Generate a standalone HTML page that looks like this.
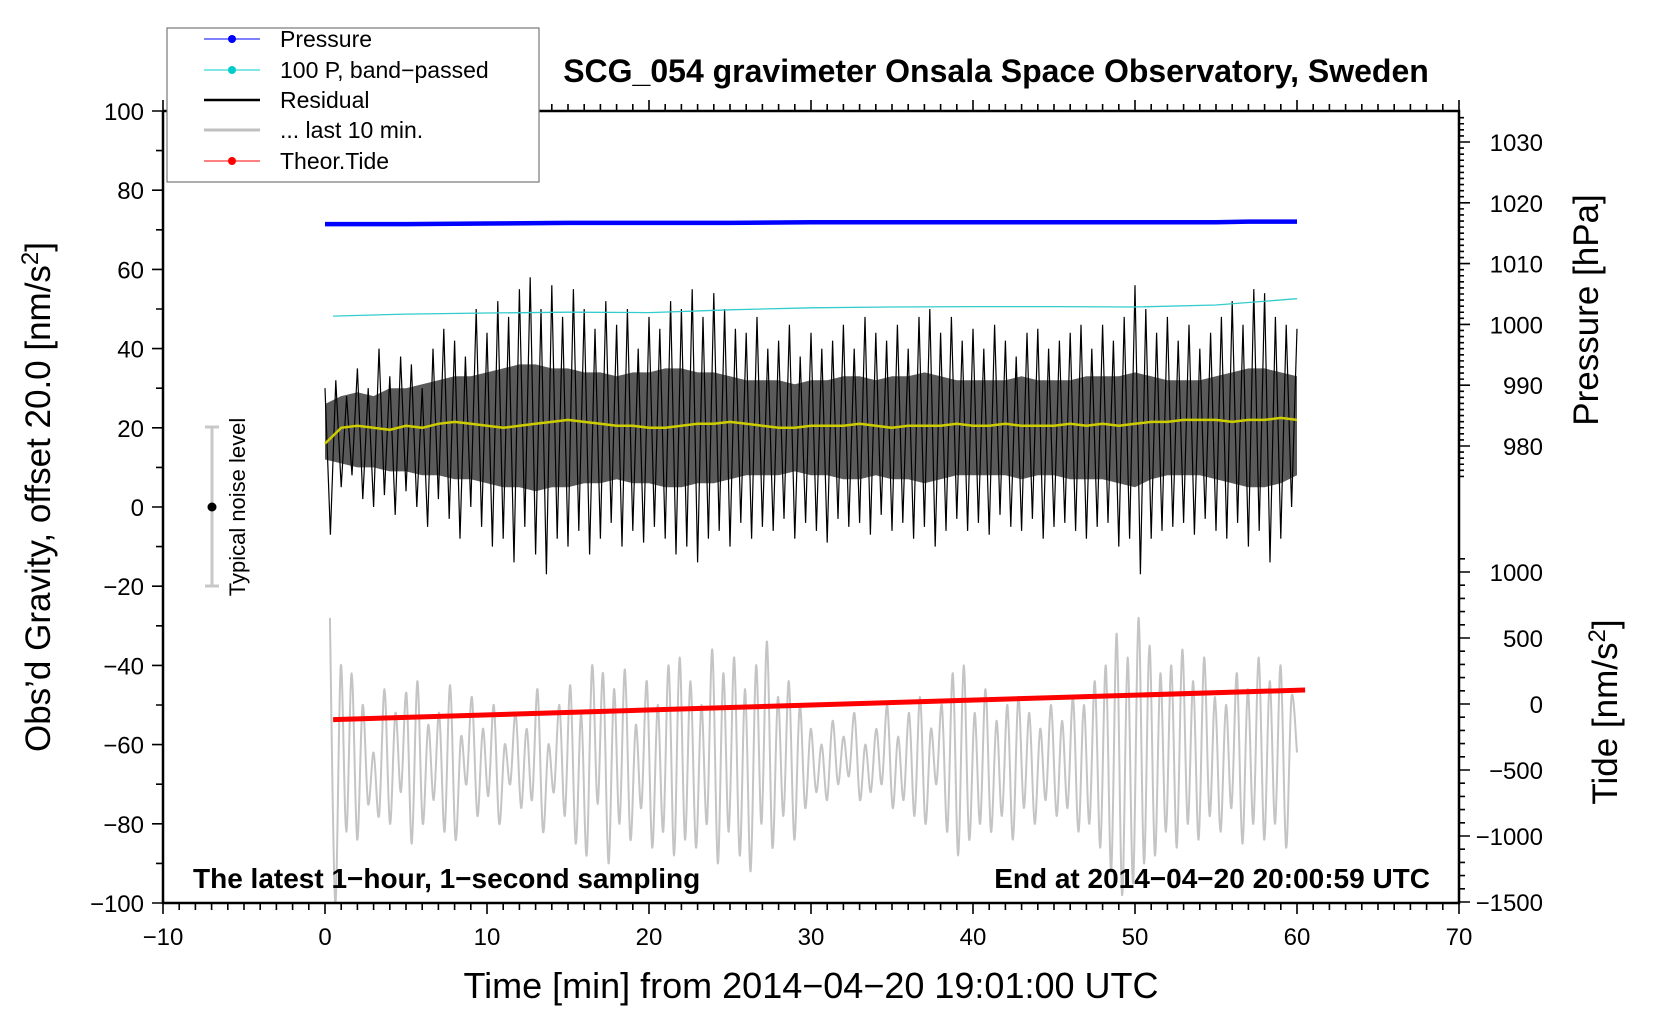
<!DOCTYPE html>
<html><head><meta charset="utf-8"><style>
html,body{margin:0;padding:0;background:#fff}
svg{display:block;font-family:"Liberation Sans",Arial,sans-serif}
</style></head><body>
<svg id="chart" width="1660" height="1020" viewBox="0 0 1660 1020" xmlns="http://www.w3.org/2000/svg">
<rect width="1660" height="1020" fill="#fff"/>
<g id="plot"></g>
<g id="axes"></g>
<text x="996" y="82" font-size="32" font-weight="bold" text-anchor="middle">SCG_054 gravimeter Onsala Space Observatory, Sweden</text>
<text x="811" y="998" font-size="36" text-anchor="middle">Time [min] from 2014−04−20 19:01:00 UTC</text>
<text transform="translate(50,497) rotate(-90)" font-size="35" text-anchor="middle">Obs’d Gravity, offset 20.0 [nm/s<tspan dy="-12" font-size="24">2</tspan><tspan dy="12">]</tspan></text>
<text transform="translate(1598,310) rotate(-90)" font-size="35" text-anchor="middle">Pressure [hPa]</text>
<text transform="translate(1617,712) rotate(-90)" font-size="35" text-anchor="middle">Tide [nm/s<tspan dy="-12" font-size="24">2</tspan><tspan dy="12">]</tspan></text>
<text x="193" y="888" font-size="28" font-weight="bold">The latest 1−hour, 1−second sampling</text>
<text x="1430" y="888" font-size="28" font-weight="bold" text-anchor="end">End at 2014−04−20 20:00:59 UTC</text>
<g>
<line x1="212" y1="427" x2="212" y2="586" stroke="#c8c8c8" stroke-width="3"/>
<line x1="205" y1="427" x2="219" y2="427" stroke="#c8c8c8" stroke-width="3"/>
<line x1="205" y1="586" x2="219" y2="586" stroke="#c8c8c8" stroke-width="3"/>
<circle cx="212" cy="507" r="4.5" fill="#000"/>
<text transform="translate(245,507) rotate(-90)" font-size="22" text-anchor="middle">Typical noise level</text>
</g>
<g id="legend">
<rect x="167" y="28" width="372" height="154" fill="#fff" stroke="#777" stroke-width="1.2"/>
<g><line x1="204" y1="39" x2="260" y2="39" stroke="#0000ff" stroke-width="1"/><circle cx="232" cy="39" r="4" fill="#0000ff"/><text x="280" y="47" font-size="23">Pressure</text></g>
<g><line x1="204" y1="70" x2="260" y2="70" stroke="#00cccc" stroke-width="1"/><circle cx="232" cy="70" r="4" fill="#00cccc"/><text x="280" y="78" font-size="23">100 P, band−passed</text></g>
<g><line x1="204" y1="100" x2="260" y2="100" stroke="#000" stroke-width="2.5"/><text x="280" y="108" font-size="23">Residual</text></g>
<g><line x1="204" y1="130" x2="260" y2="130" stroke="#c0c0c0" stroke-width="3"/><text x="280" y="138" font-size="23">... last 10 min.</text></g>
<g><line x1="204" y1="161" x2="260" y2="161" stroke="#ff0000" stroke-width="1"/><circle cx="232" cy="161" r="4" fill="#ff0000"/><text x="280" y="169" font-size="23">Theor.Tide</text></g>
</g>
</svg>
<script>
const residual=[30,-7,32,5,28,8,35,2,30,0,40,3,33,-2,38,4,36,0,30,-5,40,2,45,-3,42,-8,38,0,50,-5,44,-10,52,-8,48,-14,55,-5,58,-12,50,-17,56,-8,48,-10,55,-6,50,-12,45,-8,52,-4,46,-10,50,-6,40,-9,48,-5,45,-8,52,-12,50,-10,55,-14,48,-8,54,-6,50,-10,45,-4,44,-8,48,-5,40,-6,42,-3,46,-8,38,-4,44,-6,40,-9,42,-3,46,-5,40,-4,48,-7,44,-2,42,-6,46,-4,40,-8,48,-5,50,-10,44,-6,48,-3,42,-6,45,-4,40,-7,46,-2,42,-5,38,-6,44,-3,45,-8,40,-5,42,-4,44,-6,46,-8,40,-5,46,-4,42,-10,48,-8,56,-17,50,-8,44,-6,48,-5,42,-4,46,-7,40,-3,44,-6,48,-8,52,-4,46,-10,55,-6,54,-14,48,-8,46,0,45];
const coreHi=[26,28,29,28,30,30,31,32,33,33,34,35,36,36,35,35,34,34,33,34,34,35,35,34,34,33,32,32,32,31,32,32,33,33,32,33,33,34,33,32,32,32,32,33,32,32,32,33,33,33,34,33,32,32,32,33,34,35,35,34,33];
const coreLo=[12,11,10,10,9,9,8,8,7,7,6,5,5,4,5,5,6,6,7,6,6,5,5,6,6,7,8,8,8,9,8,8,7,7,8,7,7,6,7,8,8,8,8,7,8,8,7,7,7,6,5,7,8,8,8,7,6,5,5,6,8];
const smoothed=[16,20,20.5,20,19.5,20.5,20,21,21.5,21,20.5,20,20.5,21,21.5,22,21.5,21,20.5,20.5,20,20,20.5,21,21,21.5,21,20.5,20,20,20.5,20.5,20.5,21,20.5,20,20.5,20.5,20.5,21,20.5,20.5,21,20.5,20.5,20.5,21,20.5,21,20.5,21,21.5,21.5,22,22,22,21.5,22,22,22.5,22];
const last10=[-28,-100,-40,-82,-42,-84,-50,-75,-62,-78,-46,-80,-52,-72,-47,-85,-44,-80,-55,-74,-52,-82,-45,-84,-58,-70,-48,-78,-56,-73,-50,-80,-60,-70,-52,-76,-56,-74,-46,-82,-60,-72,-50,-78,-45,-85,-52,-88,-40,-75,-42,-90,-46,-80,-41,-84,-55,-76,-44,-86,-50,-82,-40,-88,-38,-84,-44,-86,-50,-80,-36,-90,-42,-82,-38,-88,-46,-92,-40,-80,-34,-86,-48,-78,-44,-84,-50,-76,-56,-72,-60,-74,-54,-70,-58,-68,-52,-74,-60,-72,-56,-70,-50,-76,-58,-74,-52,-78,-48,-80,-56,-70,-50,-82,-42,-88,-40,-84,-52,-80,-46,-82,-54,-78,-50,-84,-48,-76,-52,-80,-56,-74,-50,-78,-54,-76,-48,-82,-50,-80,-44,-86,-40,-92,-32,-98,-38,-95,-28,-90,-35,-88,-42,-82,-40,-86,-36,-80,-44,-84,-38,-78,-48,-82,-50,-76,-42,-85,-46,-80,-38,-84,-44,-80,-40,-86,-48,-62];
const bandTimes=[0.5,5,10,15,20,25,30,35,40,45,50,55,60];
const bandPassed=[48.2,48.7,49.0,49.2,49.1,49.8,50.3,50.5,50.6,50.6,50.5,51.0,52.6];
const pressTimes=[0,5,10,15,20,25,30,35,40,45,50,55,57,60];
const pressure=[1016.5,1016.5,1016.6,1016.7,1016.7,1016.7,1016.8,1016.8,1016.8,1016.8,1016.8,1016.8,1016.9,1016.9];
const tideTimes=[0.5,60.5];
const tide=[-118,106];
const xTicks=[-10,0,10,20,30,40,50,60,70];
const gTicks=[100,80,60,40,20,0,-20,-40,-60,-80,-100];
const pTicks=[1030,1020,1010,1000,990,980];
const tTicks=[1000,500,0,-500,-1000,-1500];

const L=163,R=1459,T=111,B=903;
const xS=t=>L+(t+10)*(R-L)/80;
const gS=g=>T+(100-g)*(B-T)/200;
const pS=p=>142+(1030-p)*6.08;
const tS=v=>704-v*0.132;
const NS='http://www.w3.org/2000/svg';
const plot=document.getElementById('plot'), axes=document.getElementById('axes');
function mk(tag,attrs,parent){const e=document.createElementNS(NS,tag);for(const k in attrs)e.setAttribute(k,attrs[k]);parent.appendChild(e);return e;}
function poly(pts){return pts.map(p=>p[0].toFixed(1)+','+p[1].toFixed(1)).join(' ');}
function smoothPath(p){let d=`M${p[0][0].toFixed(1)},${p[0][1].toFixed(1)}`;
 for(let i=0;i<p.length-1;i++){const p0=p[i-1]||p[i],p1=p[i],p2=p[i+1],p3=p[i+2]||p2;
  const c1=[p1[0]+(p2[0]-p0[0])/6,p1[1]+(p2[1]-p0[1])/6],c2=[p2[0]-(p3[0]-p1[0])/6,p2[1]-(p3[1]-p1[1])/6];
  d+=`C${c1[0].toFixed(1)},${c1[1].toFixed(1)} ${c2[0].toFixed(1)},${c2[1].toFixed(1)} ${p2[0].toFixed(1)},${p2[1].toFixed(1)}`;}
 return d;}

let pts=last10.map((v,i)=>[xS(0.3+i*59.7/(last10.length-1)),gS(v)]);
let e=mk('path',{d:smoothPath(pts),fill:'none',stroke:'#c4c4c4','stroke-width':2},plot);



pts=tideTimes.map((t,i)=>[xS(t),tS(tide[i])]);
e=mk('polyline',{points:poly(pts),fill:'none',stroke:'#ff0000','stroke-width':5},plot);



const hiPts=coreHi.map((v,i)=>[xS(i),gS(v)]);
const loPts=coreLo.map((v,i)=>[xS(i),gS(v)]).reverse();
e=mk('polygon',{points:poly(hiPts.concat(loPts)),fill:'#1a1a1a','fill-opacity':0.72,stroke:'none'},plot);



pts=residual.map((v,i)=>[xS(i*60/(residual.length-1)),gS(v)]);
e=mk('polyline',{points:poly(pts),fill:'none',stroke:'#000','stroke-width':1.2},plot);



pts=smoothed.map((v,i)=>[xS(i*60/(smoothed.length-1)),gS(v)]);
e=mk('polyline',{points:poly(pts),fill:'none',stroke:'#cccc00','stroke-width':2.5},plot);



pts=bandTimes.map((t,i)=>[xS(t),gS(bandPassed[i])]);
e=mk('polyline',{points:poly(pts),fill:'none',stroke:'#33cccc','stroke-width':1.3},plot);



pts=pressTimes.map((t,i)=>[xS(t),pS(pressure[i])]);
e=mk('polyline',{points:poly(pts),fill:'none',stroke:'#0000ff','stroke-width':4.5},plot);



e=mk('path',{d:`M${L},${T}V${B}H${R}V${T}H${L}`,fill:'none',stroke:'#000','stroke-width':2.5},axes);


let d='';
for(let m=-10;m<=70;m++){const x=xS(m);const major=m%10===0;d+=`M${x},${B}v${major?11:7}M${x},${T}v${major?-11:-7}`;}
for(let g=-100;g<=100;g+=10){const y=gS(g);d+=`M${L},${y}h${g%20===0?-11:-7}`;}
for(let p=1034;p>=975;p--){const y=pS(p);if(y<T||y>B)continue;d+=`M${R},${y}h${p%10===0?11:5}`;}
for(let v=-1500;v<=1100;v+=100){const y=tS(v);if(y<T||y>B)continue;d+=`M${R},${y}h${v%500===0?11:6}`;}
mk('path',{d:d,stroke:'#000','stroke-width':1.6,fill:'none'},axes);
xTicks.forEach(t=>{e=mk('text',{x:xS(t),y:945,'font-size':24,'text-anchor':'middle'},axes);e.textContent=String(t).replace('-','−');

});
gTicks.forEach(g=>{e=mk('text',{x:144,y:gS(g)+9,'font-size':24,'text-anchor':'end'},axes);e.textContent=String(g).replace('-','−');

});
pTicks.forEach(p=>{e=mk('text',{x:1543,y:pS(p)+9,'font-size':24,'text-anchor':'end'},axes);e.textContent=String(p);

});
tTicks.forEach(v=>{e=mk('text',{x:1543,y:tS(v)+9,'font-size':24,'text-anchor':'end'},axes);e.textContent=String(v).replace('-','−');

});
</script>
</body></html>
